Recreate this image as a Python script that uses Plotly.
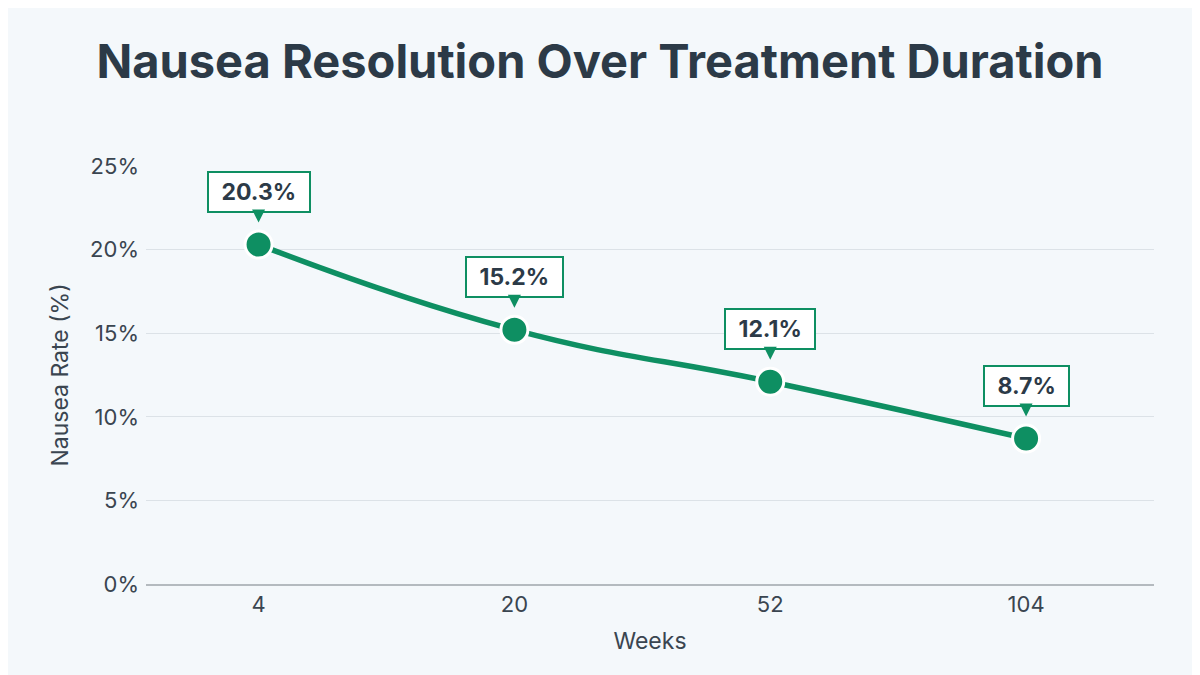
import plotly.graph_objects as go

weeks = ["4", "20", "52", "104"]
nausea_rate = [20.3, 15.2, 12.1, 8.7]
y_ticks = [0, 5, 10, 15, 20, 25]
y_tick_labels = ["0%", "5%", "10%", "15%", "20%", "25%"]

green = "#0e8f62"
dark = "#2c3a47"

fig = go.Figure()
fig.add_trace(go.Scatter(
    x=weeks, y=nausea_rate, mode="lines+markers",
    line=dict(color=green, width=5.5, shape="spline", smoothing=1.3),
    marker=dict(size=27, color=green, line=dict(color="white", width=3)),
    cliponaxis=False, hoverinfo="skip"))

# callouts: category axes take the index as position
for i, v in enumerate(nausea_rate):
    fig.add_annotation(
        x=i, y=v, text=f"&nbsp;<b>{v}%</b>&nbsp;", showarrow=True,
        ax=0, ay=-53, standoff=22, height=26,
        arrowhead=2, arrowsize=1.3, arrowwidth=2, arrowcolor=green,
        bgcolor="white", bordercolor=green, borderwidth=2, borderpad=6,
        font=dict(family="Inter", size=23, color=dark))

fig.update_layout(
    width=1200, height=675,
    paper_bgcolor="#f4f8fb", plot_bgcolor="#f4f8fb",
    margin=dict(l=138, r=54, t=158, b=99),
    showlegend=False,
    font=dict(family="Inter", color=dark),
    title=dict(text="<b>Nausea Resolution Over Treatment Duration</b>",
               x=0.4933, xanchor="center", y=0.92, yanchor="middle",
               font=dict(family="Inter", size=47, color=dark)),
)
fig.update_xaxes(
    type="category", range=[-0.44, 3.5],
    title=dict(text="Weeks", font=dict(size=23, color="#3a4550"), standoff=16),
    tickfont=dict(size=22, color="#3a4550"), ticks="", showgrid=False,
    showline=True, linecolor="#b4babf", linewidth=2)
fig.update_yaxes(
    range=[0, 25], tickvals=y_ticks, ticktext=y_tick_labels,
    title=dict(text="Nausea Rate (%)", font=dict(size=23, color="#3a4550"), standoff=15),
    tickfont=dict(size=22, color="#3a4550"), ticks="", ticklabelstandoff=6,
    showgrid=True, gridcolor="#dce2e7", gridwidth=1, zeroline=False)

fig.write_html("out.html")
